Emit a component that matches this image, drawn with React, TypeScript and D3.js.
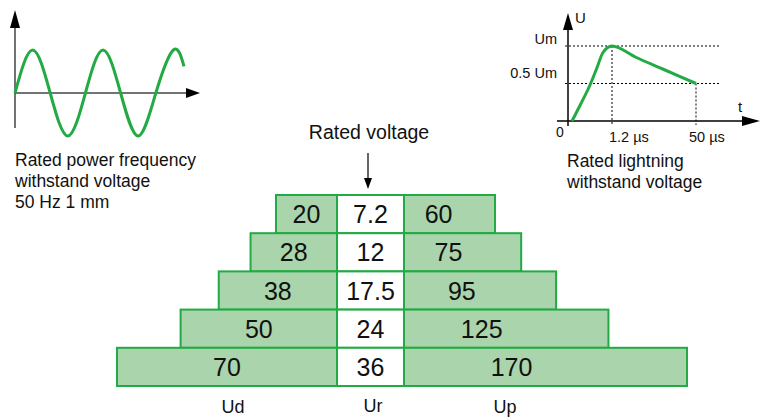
import React from "react";
import * as d3 from "d3";

// rated voltages (centre column) and withstand levels
const ratedVoltage = ["7.2", "12", "17.5", "24", "36"];
const udValues = [20, 28, 38, 50, 70];
const upValues = [60, 75, 95, 125, 170];
const columnLabels = ["Ud", "Ur", "Up"];

// power frequency wave, read at its zero crossings and peaks (x in periods)
const wavePoints: [number, number][] = [
  [0, 0], [0.25, 1], [0.5, 0], [0.75, -1], [1, 0], [1.25, 1],
  [1.5, 0], [1.75, -1], [2, 0], [2.25, 1], [2.4, 0.62],
];

// lightning impulse (t in µs, U as fraction of Um)
const impulsePoints: [number, number][] = [
  [0.11, 0], [0.33, 0.21], [0.6, 0.48], [0.79, 0.71], [0.95, 0.91], [1.2, 1],
  [15, 0.85], [31, 0.69], [50, 0.5],
];
const impulseTicks = [
  { t: 1.2, label: "1.2 µs" },
  { t: 50, label: "50 µs" },
];
const impulseLevels = [
  { u: 1, label: "Um" },
  { u: 0.5, label: "0.5 Um" },
];

const W = 762;
const H = 420;
const FONT = "'Liberation Sans', Arial, sans-serif";
const GREEN = "#22aa44";
const FILL = "#aad4ab";

const App: React.FC = () => {
  // pyramid
  const colL = 337;
  const colR = 404;
  const rowY = d3.scaleBand<string>().domain(ratedVoltage).range([195, 386]);
  const rowH = rowY.bandwidth();
  const udW = d3.scaleLinear().domain([20, 70]).range([61, 220]);
  const upW = d3.scaleLinear().domain([60, 170]).range([91, 283]);

  // sine sketch
  const sx = d3.scaleLinear().domain([0, 2.4]).range([15, 184]);
  const sy = d3.scaleLinear().domain([-1, 1]).range([136, 50]);
  const sine = d3
    .line<[number, number]>()
    .x((d) => sx(d[0]))
    .y((d) => sy(d[1]))
    .curve(d3.curveNatural)(wavePoints);

  // impulse sketch
  const ix = d3.scaleLinear().domain([0, 1.2, 50]).range([568, 612, 696]);
  const iy = d3.scaleLinear().domain([0, 1]).range([121, 46]);
  const impulse = d3
    .line<[number, number]>()
    .x((d) => ix(d[0]))
    .y((d) => iy(d[1]))
    .curve(d3.curveMonotoneX)(impulsePoints);

  return (
    <svg
      width={W}
      height={H}
      style={{ position: "absolute", left: 0, top: 0, background: "#fff" }}
      fontFamily={FONT}
    >
      {/* power frequency sketch */}
      <g>
        <line x1={15} y1={26} x2={15} y2={128} stroke="#444" strokeWidth={1.5} />
        <path d="M15,10 L10,28 L20,28 Z" fill="#000" />
        <line x1={15} y1={sy(0)} x2={188} y2={sy(0)} stroke="#444" strokeWidth={1.5} />
        <path d={`M200,${sy(0)} L186,${sy(0) - 5} L186,${sy(0) + 5} Z`} fill="#000" />
        <path d={sine || ""} fill="none" stroke={GREEN} strokeWidth={3} />
        <g fontSize={17.5} fill="#111">
          <text x={15} y={166}>Rated power frequency</text>
          <text x={15} y={187}>withstand voltage</text>
          <text x={15} y={208}>50 Hz 1 mm</text>
        </g>
      </g>

      {/* lightning impulse sketch */}
      <g>
        {impulseLevels.map((l) => (
          <g key={l.label}>
            <line
              x1={565}
              x2={721}
              y1={iy(l.u)}
              y2={iy(l.u)}
              stroke="#000"
              strokeDasharray="2,2"
            />
            <text x={557} y={iy(l.u) - 2 - (l.u < 1 ? 4 : 0)} fontSize={14.5} textAnchor="end" fill="#111">
              {l.label}
            </text>
          </g>
        ))}
        {impulseTicks.map((t, i) => (
          <g key={t.label}>
            <line
              x1={ix(t.t)}
              x2={ix(t.t)}
              y1={iy(impulsePoints.find((p) => p[0] === t.t)![1])}
              y2={iy(0) + 4}
              stroke="#000"
              strokeDasharray="2,2"
            />
            <text x={ix(t.t) - (i === 0 ? 3 : 7)} y={142} fontSize={14.5} fill="#111">
              {t.label}
            </text>
          </g>
        ))}
        <line x1={568} y1={28} x2={568} y2={126} stroke="#000" strokeWidth={1.5} />
        <path d="M568,13 L563,30 L573,30 Z" fill="#000" />
        <line x1={557} y1={iy(0)} x2={744} y2={iy(0)} stroke="#000" strokeWidth={1.5} />
        <path d={`M760,${iy(0)} L742,${iy(0) - 5} L742,${iy(0) + 5} Z`} fill="#000" />
        <path d={impulse || ""} fill="none" stroke={GREEN} strokeWidth={3} />
        <g fontSize={15} fill="#111">
          <text x={575} y={23}>U</text>
          <text x={738} y={112}>t</text>
          <text x={560} y={137} textAnchor="middle" fontSize={14}>0</text>
        </g>
        <g fontSize={17.5} fill="#111">
          <text x={567} y={167}>Rated lightning</text>
          <text x={567} y={188}>withstand voltage</text>
        </g>
      </g>

      {/* rated voltage pointer */}
      <text x={369} y={139} fontSize={19.5} textAnchor="middle" fill="#111">
        Rated voltage
      </text>
      <line x1={368} y1={153} x2={368} y2={180} stroke="#000" strokeWidth={1.2} />
      <path d="M368,189 L364,178 L372,178 Z" fill="#000" />

      {/* pyramid */}
      <g>
        {ratedVoltage.map((ur, i) => {
          const y = rowY(ur)!;
          const wl = udW(udValues[i]);
          const wr = upW(upValues[i]);
          return (
            <g key={ur}>
              <rect x={colL - wl} y={y} width={wl} height={rowH} fill={FILL} stroke={GREEN} strokeWidth={2} />
              <rect x={colR} y={y} width={wr} height={rowH} fill={FILL} stroke={GREEN} strokeWidth={2} />
              <rect x={colL} y={y} width={colR - colL} height={rowH} fill="#fff" stroke={GREEN} strokeWidth={2} />
              <g fontSize={25} fill="#111" textAnchor="middle">
                <text x={colL - wl / 2} y={y + rowH / 2 + 9}>{udValues[i]}</text>
                <text x={(colL + colR) / 2} y={y + rowH / 2 + 9}>{ur}</text>
                <text x={colR + wr * 0.38} y={y + rowH / 2 + 9}>{upValues[i]}</text>
              </g>
            </g>
          );
        })}
      </g>

      {/* column labels */}
      <g fontSize={18} fill="#111" textAnchor="middle">
        <text x={233} y={413}>{columnLabels[0]}</text>
        <text x={373} y={412}>{columnLabels[1]}</text>
        <text x={505} y={413}>{columnLabels[2]}</text>
      </g>
    </svg>
  );
};

export default App;
